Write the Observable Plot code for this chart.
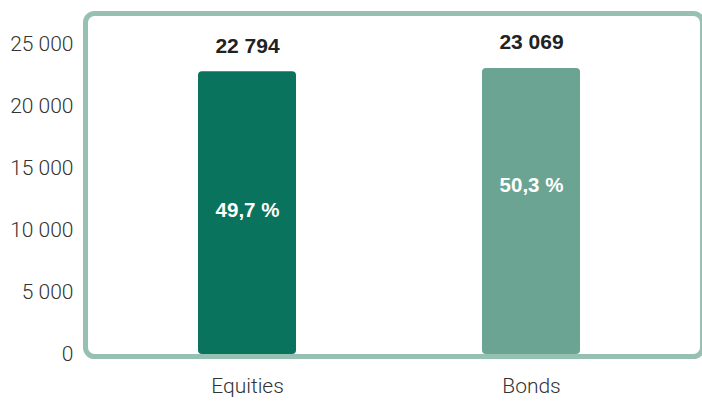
<!DOCTYPE html>
<html><head><meta charset="utf-8">
<script src="https://cdn.jsdelivr.net/npm/d3@7"></script>
<script src="https://cdn.jsdelivr.net/npm/@observablehq/plot@0.6"></script>
<style>
body{margin:0;background:#fff}
#chart svg{display:block}
</style>
</head><body><div id="chart"></div>
<script>
const categories = ["Equities", "Bonds"];
const values = [22794, 23069];
const shares = ["49,7 %", "50,3 %"];
const shareLabelAt = [11600, 13600];
const yTicks = [0, 5000, 10000, 15000, 20000, 25000];
const barColors = ["#0a735d", "#6ba493"];

const data = categories.map((c, i) => ({category: c, value: values[i], share: shares[i], at: shareLabelAt[i]}));
const fmt = d => d3.format(",")(d).replace(/,/g, " ");
const boldFont = "'Liberation Sans', Arial, sans-serif";

const chart = Plot.plot({
  width: 702,
  height: 401,
  marginLeft: 85,
  marginRight: 0,
  marginTop: 13,
  marginBottom: 45,
  style: {fontFamily: "Roboto", fontSize: "21px", color: "#333", background: "#fff"},
  x: {domain: categories, paddingInner: 0.654, paddingOuter: 0.4114, align: 0.483, label: null},
  y: {domain: [0, 25000], range: [354, 44], label: null},
  color: {domain: categories, range: barColors},
  marks: [
    Plot.barY(data, {x: "category", y: "value", fill: "category", rx: 4}),
    Plot.frame({stroke: "#96c0b2", strokeWidth: 5, rx: 9}),
    Plot.axisY({ticks: yTicks, tickFormat: fmt, tickSize: 0, tickPadding: 12, fontWeight: 300, fill: "#333", fontSize: 21}),
    Plot.axisX({tickSize: 0, tickPadding: 22, fontWeight: 300, fill: "#333", fontSize: 21}),
    Plot.text(data, {x: "category", y: "value", text: d => fmt(d.value), dy: -26, fontFamily: boldFont, fontWeight: "bold", fontSize: 21, fill: "#222", lineAnchor: "middle"}),
    Plot.text(data, {x: "category", y: "at", text: "share", fontFamily: boldFont, fontWeight: "bold", fontSize: 20.5, fill: "#fff", lineAnchor: "middle"})
  ]
});
document.getElementById("chart").appendChild(chart);
</script>
</body></html>
